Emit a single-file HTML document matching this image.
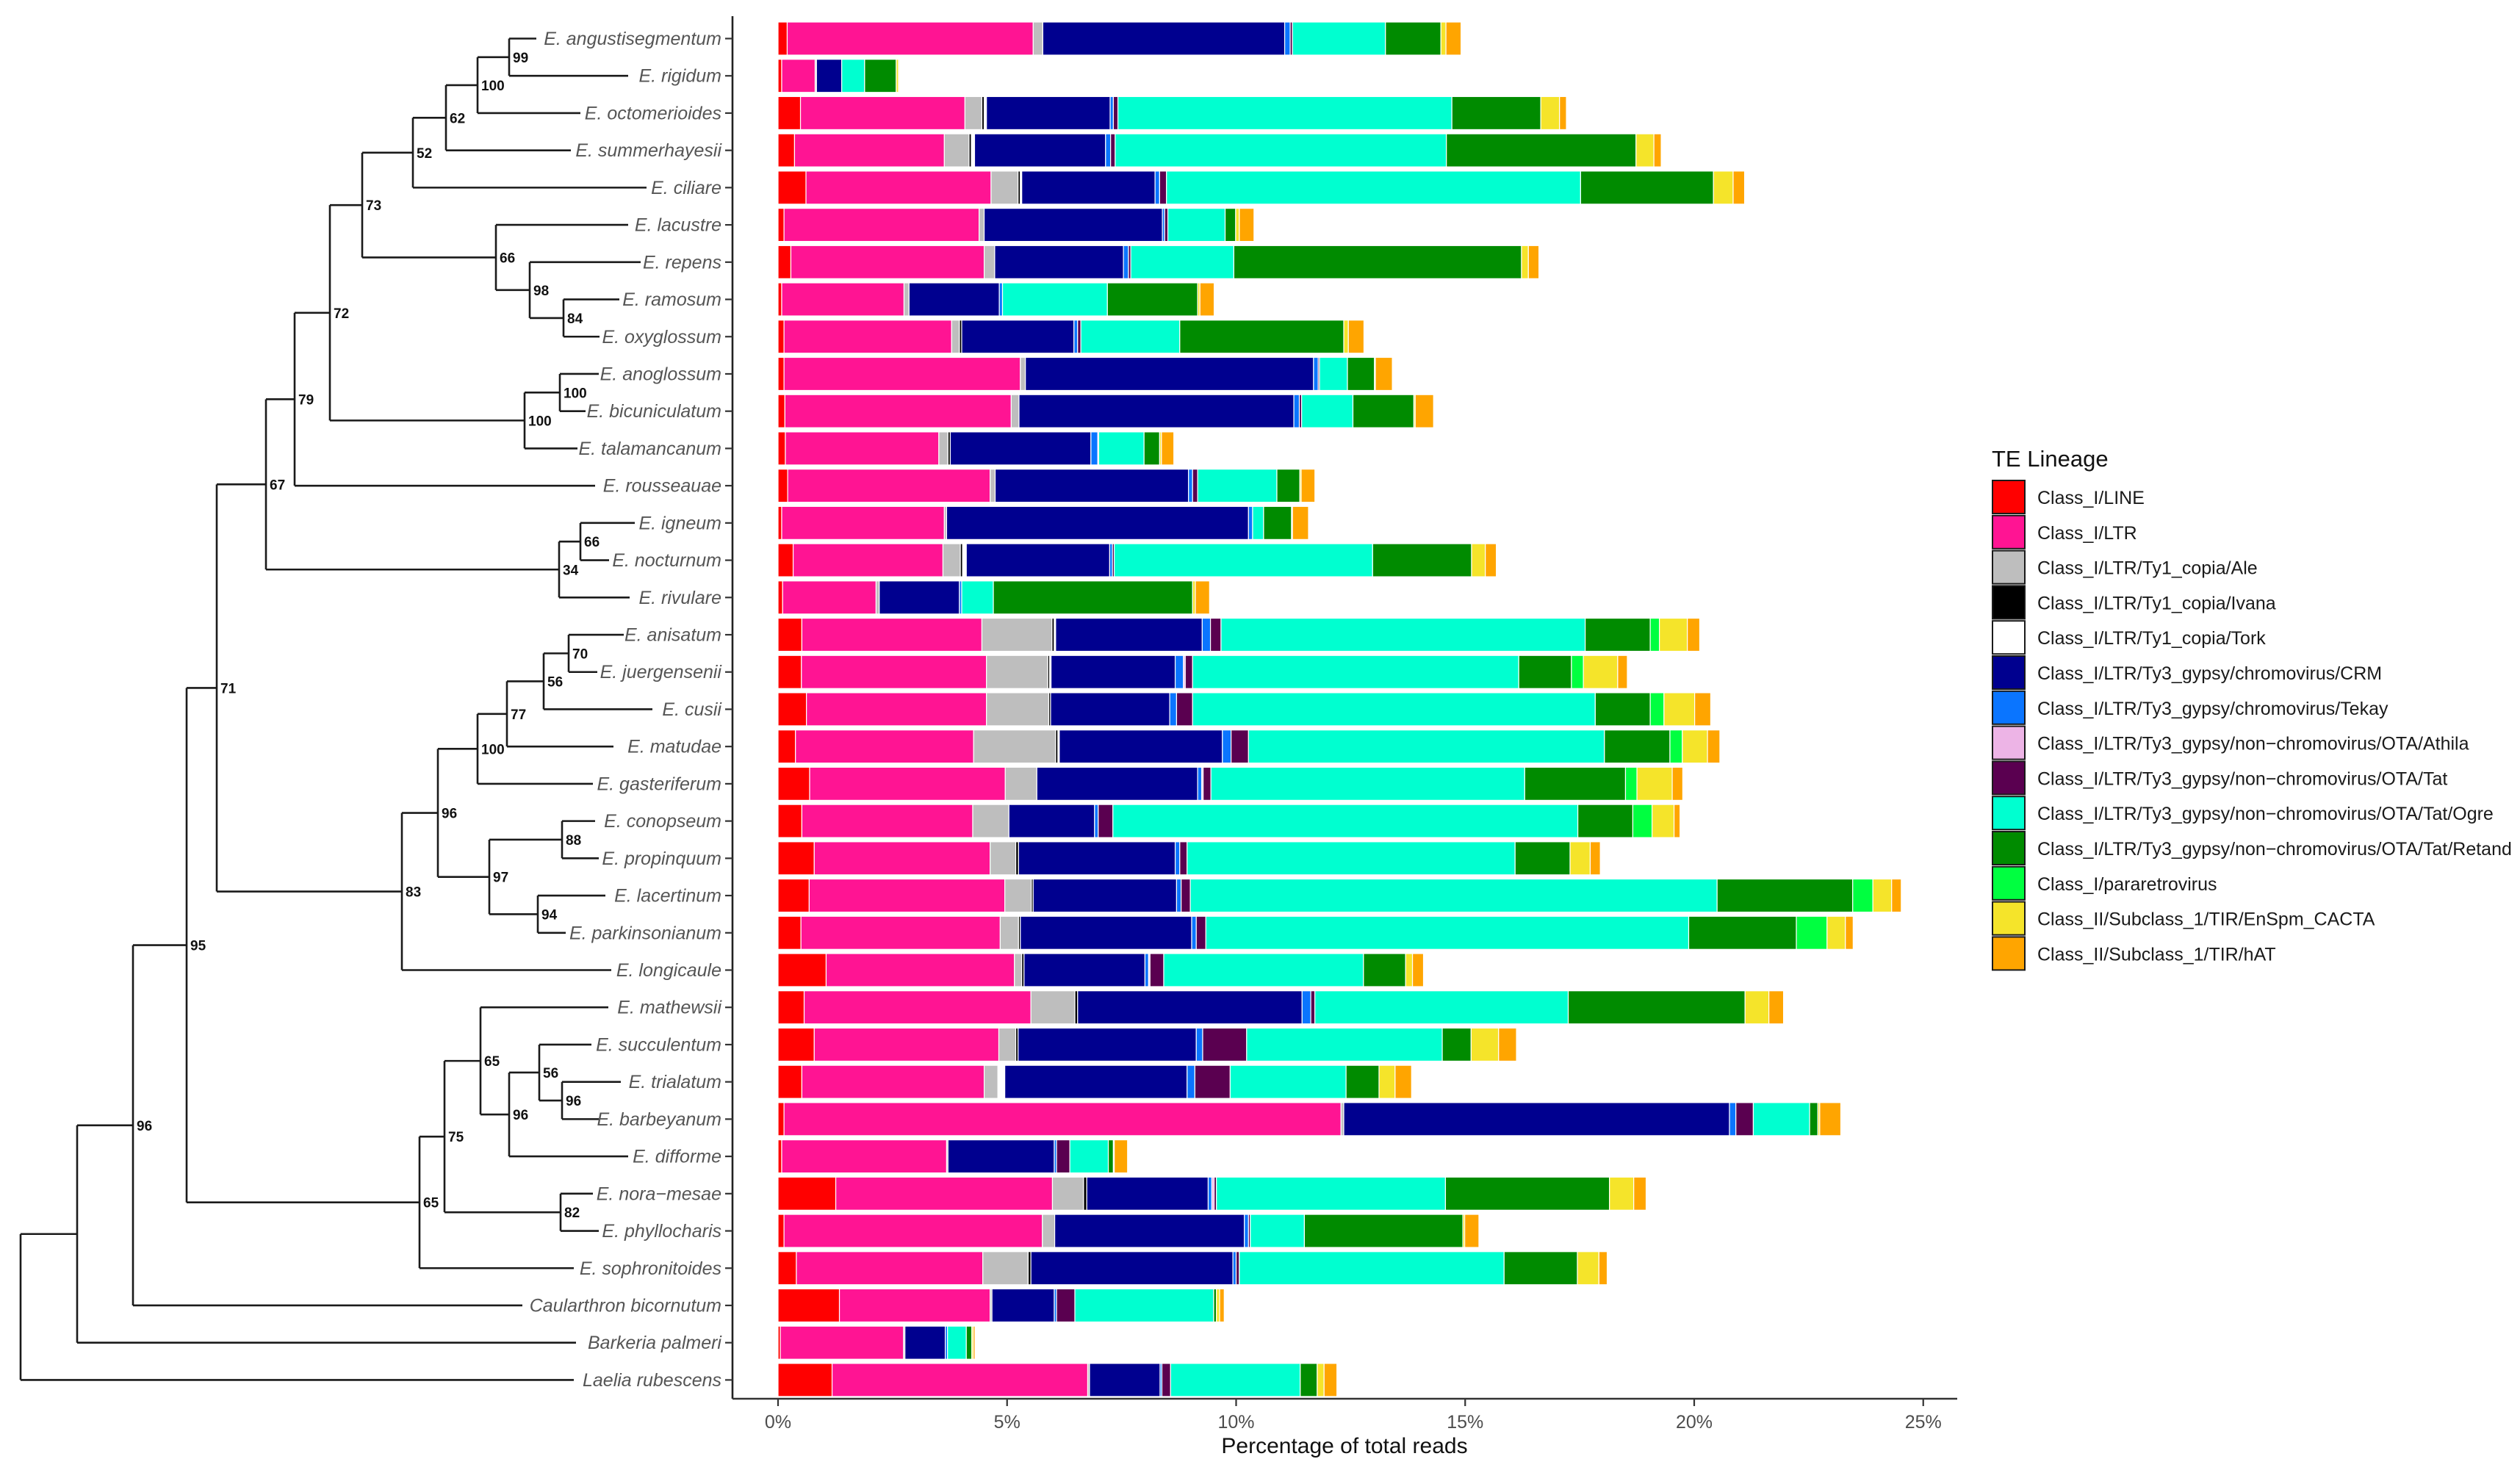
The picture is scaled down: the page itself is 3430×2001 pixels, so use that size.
<!DOCTYPE html>
<html><head><meta charset="utf-8"><style>
html,body{margin:0;padding:0;background:#fff;}
svg{display:block;font-family:"Liberation Sans",Arial,sans-serif;}
</style></head><body>
<svg id="chart" xmlns="http://www.w3.org/2000/svg" width="3430" height="2001" viewBox="0 0 3430 2001">
<g id="tree"></g>
<g id="bars"></g>
<g id="axes"></g>
<g id="legend"></g>
</svg>
<script>
const species = ["E. angustisegmentum","E. rigidum","E. octomerioides","E. summerhayesii","E. ciliare","E. lacustre","E. repens","E. ramosum","E. oxyglossum","E. anoglossum","E. bicuniculatum","E. talamancanum","E. rousseauae","E. igneum","E. nocturnum","E. rivulare","E. anisatum","E. juergensenii","E. cusii","E. matudae","E. gasteriferum","E. conopseum","E. propinquum","E. lacertinum","E. parkinsonianum","E. longicaule","E. mathewsii","E. succulentum","E. trialatum","E. barbeyanum","E. difforme","E. nora\u2212mesae","E. phyllocharis","E. sophronitoides","Caularthron bicornutum","Barkeria palmeri","Laelia rubescens"];
const lineages = ["Class_I/LINE","Class_I/LTR","Class_I/LTR/Ty1_copia/Ale","Class_I/LTR/Ty1_copia/Ivana","Class_I/LTR/Ty1_copia/Tork","Class_I/LTR/Ty3_gypsy/chromovirus/CRM","Class_I/LTR/Ty3_gypsy/chromovirus/Tekay","Class_I/LTR/Ty3_gypsy/non\u2212chromovirus/OTA/Athila","Class_I/LTR/Ty3_gypsy/non\u2212chromovirus/OTA/Tat","Class_I/LTR/Ty3_gypsy/non\u2212chromovirus/OTA/Tat/Ogre","Class_I/LTR/Ty3_gypsy/non\u2212chromovirus/OTA/Tat/Retand","Class_I/pararetrovirus","Class_II/Subclass_1/TIR/EnSpm_CACTA","Class_II/Subclass_1/TIR/hAT"];
const colors = ["#FF0000","#FF1493","#BEBEBE","#000000","#FFFFFF","#00008F","#0A75FF","#EDB4E6","#5A0050","#00FFD0","#008B00","#00FF40","#F5E42A","#FFA500"];
const vLINE = [.2,.08,.49,.36,.61,.13,.28,.08,.13,.13,.15,.16,.21,.08,.33,.1,.52,.51,.62,.38,.69,.52,.79,.68,.5,1.05,.57,.79,.52,.13,.08,1.26,.13,.4,1.34,.05,1.18];
const vLTR = [5.37,.73,3.59,3.27,4.04,4.26,4.22,2.67,3.66,5.16,4.94,3.35,4.42,3.55,3.27,2.04,3.93,4.04,3.93,3.89,4.27,3.73,3.84,4.27,4.35,4.11,4.95,4.03,3.98,12.16,3.6,4.73,5.64,4.07,3.29,2.69,5.58];
const vAle = [.21,.03,.37,.54,.59,.11,.23,.11,.17,.11,.17,.2,.11,.05,.38,.07,1.53,1.34,1.36,1.79,.69,.79,.56,.58,.4,.16,.96,.37,.3,.06,.03,.68,.27,.99,.04,.03,.04];
const vIvana = [0,0,.05,.05,.05,0,0,0,.05,0,0,.05,0,0,.05,0,.05,.04,.04,.05,0,0,.06,.04,.04,.05,.06,.05,0,0,0,.07,0,.06,0,0,0];
const vTork = [0,0,.05,.07,.03,0,0,0,0,0,0,0,0,0,.08,0,.03,.03,0,.03,0,0,0,0,0,0,0,0,.15,0,0,0,0,0,0,0,0];
const vCRM = [5.28,.55,2.7,2.86,2.91,3.89,2.81,1.97,2.45,6.29,6.0,3.07,4.22,6.59,3.13,1.75,3.2,2.71,2.6,3.56,3.51,1.87,3.42,3.13,3.74,2.64,4.9,3.89,3.98,8.42,2.32,2.65,4.14,4.41,1.36,.88,1.54];
const vTekay = [.12,0,.07,.11,.1,.05,.11,.07,.08,.1,.12,.15,.09,.09,.06,.05,.18,.18,.15,.19,.09,.08,.1,.1,.1,.08,.19,.14,.17,.14,.05,.08,.09,.07,.05,.05,.04];
const vAthila = [0,0,0,0,0,0,0,0,0,0,0,.02,0,0,0,0,0,.04,0,0,.03,0,0,0,0,.03,0,0,0,0,0,.05,0,0,0,0,0];
const vTat = [.05,0,.1,.1,.15,.07,.05,0,.07,.03,.05,0,.11,0,.04,0,.23,.16,.35,.38,.17,.32,.16,.2,.21,.3,.09,.96,.77,.38,.29,.05,.04,.07,.4,0,.19];
const vOgre = [2.03,.5,7.29,7.23,9.04,1.25,2.25,2.29,2.16,.61,1.12,.99,1.73,.24,5.64,.69,7.95,7.12,8.79,7.77,6.85,10.15,7.16,11.5,10.54,4.36,5.53,4.27,2.53,1.23,.84,5.0,1.18,5.78,3.03,.41,2.83];
const vRetand = [1.21,.69,1.94,4.14,2.9,.23,6.28,1.97,3.58,.59,1.33,.34,.5,.61,2.16,4.35,1.42,1.15,1.2,1.43,2.2,1.2,1.2,2.96,2.35,.92,3.86,.63,.72,.18,.11,3.58,3.46,1.6,.06,.12,.37];
const vPara = [0,0,0,0,0,0,0,0,0,0,0,0,0,0,0,0,.2,.26,.3,.27,.25,.42,0,.44,.67,0,0,0,0,0,0,0,0,0,0,0,0];
const vEnSpm = [.11,.05,.41,.39,.43,.08,.15,.05,.1,.02,.03,.04,.03,.02,.3,.06,.61,.75,.67,.55,.77,.48,.44,.41,.4,.15,.52,.6,.35,.04,.02,.53,.04,.47,.07,.03,.15];
const vHAT = [.33,.02,.15,.16,.25,.32,.23,.31,.34,.37,.4,.27,.3,.35,.24,.31,.27,.21,.35,.27,.23,.13,.22,.21,.17,.24,.32,.39,.36,.46,.29,.27,.31,.18,.1,.04,.28];
const series = [vLINE,vLTR,vAle,vIvana,vTork,vCRM,vTekay,vAthila,vTat,vOgre,vRetand,vPara,vEnSpm,vHAT];
const xTicks = [0,5,10,15,20,25];
const xTickLabels = ["0%","5%","10%","15%","20%","25%"];

const NS="http://www.w3.org/2000/svg";
function mk(tag,attrs,parent){const e=document.createElementNS(NS,tag);for(const k in attrs)e.setAttribute(k,attrs[k]);parent.appendChild(e);return e;}
const X0=1059, PX=62.35;
function xs(v){return X0+v*PX;}
function ys(i){return 52.5+i*50.72;}
const BH=45;

// bars
const gb=document.getElementById('bars');
species.forEach((sp,i)=>{
  let cum=0;
  series.forEach((s,k)=>{
    const v=s[i]; if(!(v>0)) return;
    const r=mk('rect',{x:xs(cum),y:ys(i)-BH/2,width:Math.max(v*PX,0.5),height:BH,fill:colors[k],stroke:'#fff','stroke-width':1.2},gb);
    
    
    cum+=v;
  });
});

// tree
function T(i,x){return {tip:i,x:x};}
function N(x,label,children){return {x:x,label:label,children:children};}
const tree=N(28,"",[
 N(105,"",[
  N(181,"96",[
   N(254,"95",[
    N(295,"71",[
     N(362,"67",[
      N(401,"79",[
       N(449,"72",[
        N(493,"73",[
         N(562,"52",[N(607,"62",[N(650,"100",[N(693,"99",[T(0,730),T(1,855)]),T(2,790)]),T(3,777)]),T(4,880)]),
         N(675,"66",[T(5,855),N(721,"98",[T(6,872),N(767,"84",[T(7,843),T(8,816)])])])
        ]),
        N(714,"100",[N(762,"100",[T(9,815),T(10,797)]),T(11,786)])
       ]),
       T(12,810)
      ]),
      N(761,"34",[N(790,"66",[T(13,864),T(14,829)]),T(15,857)])
     ]),
     N(547,"83",[
      N(596,"96",[
       N(650,"100",[N(690,"77",[N(740,"56",[N(774,"70",[T(16,849),T(17,813)]),T(18,888)]),T(19,835)]),T(20,807)]),
       N(666,"97",[N(765,"88",[T(21,810),T(22,815)]),N(732,"94",[T(23,824),T(24,770)])])
      ]),
      T(25,832)
     ])
    ]),
    N(571,"65",[
     N(605,"75",[
      N(654,"65",[T(26,828),N(693,"96",[N(734,"56",[T(27,805),N(765,"96",[T(28,845),T(29,815)])]),T(30,855)])]),
      N(763,"82",[T(31,807),T(32,815)])
     ]),
     T(33,781)
    ])
   ]),
   T(34,711)
  ]),
  T(35,784)
 ]),
 T(36,781)
]);
const gt=document.getElementById('tree');
function ny(n){ if(n.tip!==undefined){n.y=ys(n.tip);return n.y;} const c=n.children.map(ny); n.y=(Math.min(...c)+Math.max(...c))/2; return n.y;}
ny(tree);
const LS={stroke:'#1a1a1a','stroke-width':2.6,fill:'none'};
function draw(n,px){
  if(px!==null){const l=mk('line',Object.assign({x1:px,y1:n.y,x2:n.x,y2:n.y},LS),gt);
    
    }
  if(n.tip!==undefined){
    const t=mk('text',{x:982,y:n.y+8.5,'text-anchor':'end','font-size':25,'font-style':'italic',fill:'#555'},gt);
    t.textContent=species[n.tip];
    
    
    return;
  }
  const cy=n.children.map(c=>c.y);
  const v=mk('line',Object.assign({x1:n.x,y1:Math.min(...cy),x2:n.x,y2:Math.max(...cy)},LS),gt);
  
  
  if(n.label){const t=mk('text',{x:n.x+5,y:n.y+7,'font-size':19,'font-weight':'bold',fill:'#111'},gt);
    t.textContent=n.label;
    
    }
  n.children.forEach(c=>draw(c,n.x));
}
draw(tree,null);

// axes
const ga=document.getElementById('axes');
const yl=mk('line',{x1:997,y1:22,x2:997,y2:1904,stroke:'#222','stroke-width':2.6},ga);


species.forEach((s,i)=>{const t=mk('line',{x1:987,y1:ys(i),x2:997,y2:ys(i),stroke:'#333','stroke-width':2.2},ga);
 
 });
const xl=mk('line',{x1:997,y1:1904,x2:2664,y2:1904,stroke:'#333','stroke-width':2.6},ga);


xTicks.forEach((v,i)=>{
  const t=mk('line',{x1:xs(v),y1:1904,x2:xs(v),y2:1914,stroke:'#333','stroke-width':2.2},ga);
  
  
  const lb=mk('text',{x:xs(v),y:1944,'text-anchor':'middle','font-size':25,fill:'#4d4d4d'},ga);
  lb.textContent=xTickLabels[i];
  
  
});
const xt=mk('text',{x:1830,y:1978,'text-anchor':'middle','font-size':30,fill:'#111'},ga);
xt.textContent='Percentage of total reads';



// legend
const gl=document.getElementById('legend');
const lt=mk('text',{x:2711,y:635,'font-size':31,fill:'#111'},gl);
lt.textContent='TE Lineage';


lineages.forEach((name,k)=>{
  const y=653+k*47.8;
  const r=mk('rect',{x:2712,y:y+1,width:44,height:45,fill:colors[k],stroke:'#1a1a1a','stroke-width':2},gl);
  
  
  const t=mk('text',{x:2773,y:y+33,'font-size':25,fill:'#1a1a1a'},gl);
  t.textContent=name;
  
  
});
</script>
</body></html>
